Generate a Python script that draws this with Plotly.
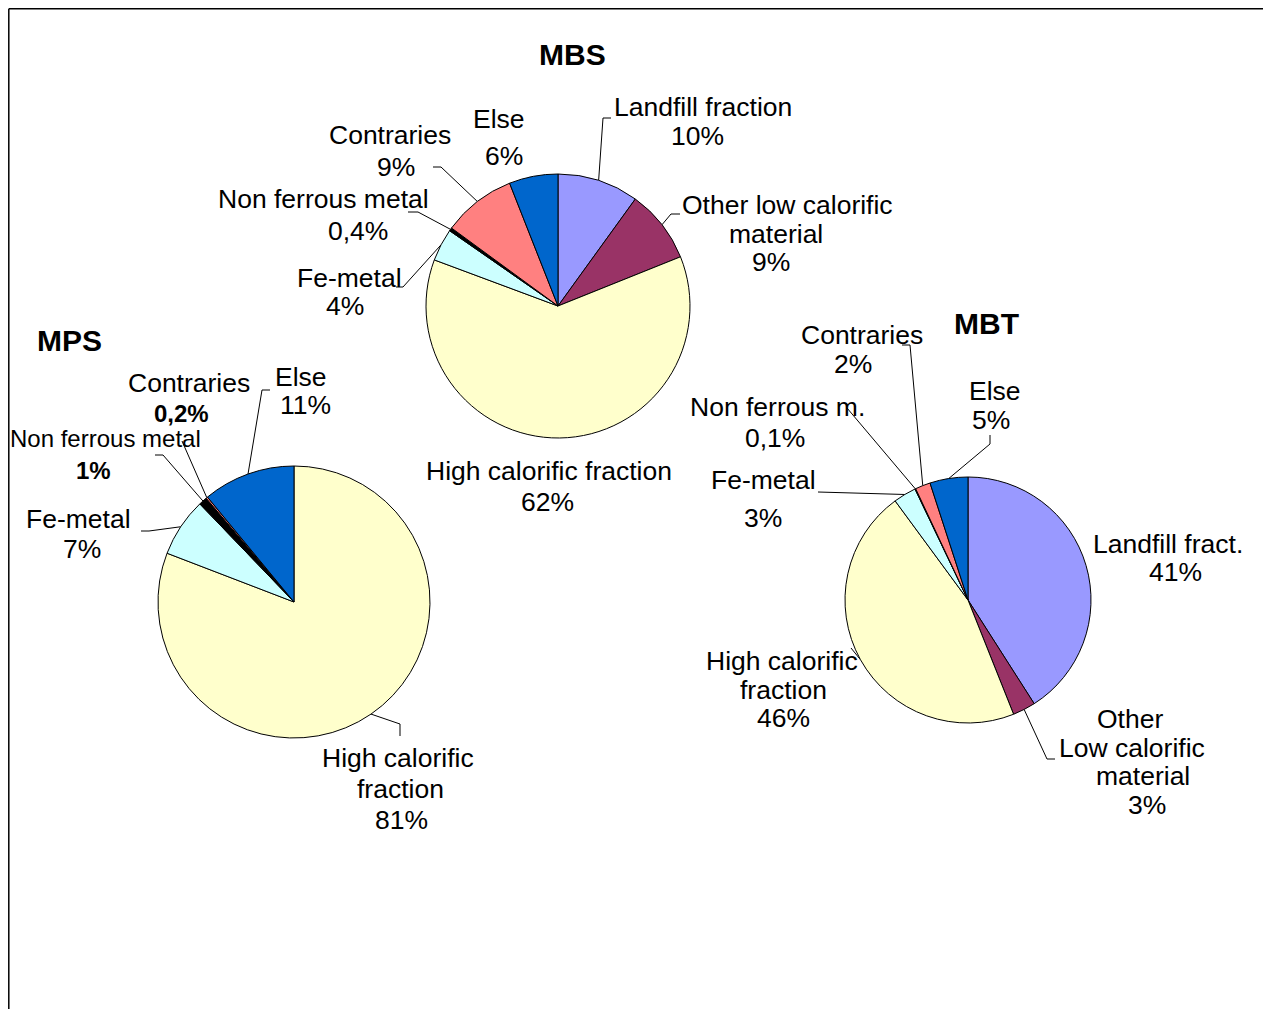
import math
import plotly.graph_objects as go

# page geometry: the browser body adds an 8px margin, so the figure is placed at (8, 8)
PAGE_W, PAGE_H = 1271, 1009
OFF = 8
W, H = PAGE_W - OFF, PAGE_H - OFF
FONT = "Liberation Sans, Arial, sans-serif"
LABEL_SIZE = 26.5
TITLE_SIZE = 30

# ---------------- data ----------------
categories = ["Landfill fraction", "Other low calorific material", "High calorific fraction",
              "Fe-metal", "Non ferrous metal", "Contraries", "Else"]
slice_colors = ["#9999FF", "#993366", "#FFFFCC", "#CCFFFF", "#000000", "#FF8080", "#0066CC"]

mbs_values = [10, 9, 62, 4, 0.4, 9, 6]
mps_values = [0, 0, 81, 7, 1, 0.2, 11]
mbt_values = [41, 3, 46, 3, 0.1, 2, 5]

pie_titles = ["MBS", "MPS", "MBT"]

# label wording per pie (text lines before the percentage)
mbs_names = [["Landfill fraction"], ["Other low calorific", "material"], ["High calorific fraction"],
             ["Fe-metal"], ["Non ferrous metal"], ["Contraries"], ["Else"]]
mps_names = [None, None, ["High calorific", "fraction"], ["Fe-metal"], ["Non ferrous metal"],
             ["Contraries"], ["Else"]]
mbt_names = [["Landfill fract."], ["Other", "Low calorific", "material"], ["High calorific", "fraction"],
             ["Fe-metal"], ["Non ferrous m."], ["Contraries"], ["Else"]]

# ---------------- layout (page-pixel positions) ----------------
geom = {"MBS": (558, 306, 132), "MPS": (294, 602, 136), "MBT": (968, 600, 123)}
title_pos = {"MBS": (572, 54), "MPS": (69, 340), "MBT": (986, 323)}

label_layout = {
    "MBS": [
        dict(pos=[(703, 107), (697, 136)], lead=[(603, 118), (611, 118)]),
        dict(pos=[(787, 205), (776, 234), (771, 262)], lead=[(671, 214), (680, 214)]),
        dict(pos=[(549, 471), (547, 502)], lead=None),
        dict(pos=[(349, 278), (345, 306)], lead=[(403, 287), (396, 287)]),
        dict(pos=[(323, 199), (358, 231)], lead=[(418, 212), (408, 212)]),
        dict(pos=[(390, 135), (396, 167)], lead=[(441, 167), (433, 167)]),
        dict(pos=[(499, 119), (504, 156)], lead=None),
    ],
    "MPS": [
        None, None,
        dict(pos=[(398, 758), (400, 789), (401, 820)], lead=[(400, 724), (400, 736)]),
        dict(pos=[(78, 519), (82, 549)], lead=[(149, 531), (141, 531)]),
        dict(pos=[(105, 438), (93, 470)], lead=[(163, 455), (155, 455)],
             sizes=[24, 24], bold=[False, True]),
        dict(pos=[(189, 383), (181, 413)], lead=[(182, 441)],
             sizes=[LABEL_SIZE, 24], bold=[False, True]),
        dict(pos=[(301, 377), (305, 405)], lead=[(262, 390), (270, 390)]),
    ],
    "MBT": [
        dict(pos=[(1168, 544), (1175, 572)], lead=None),
        dict(pos=[(1130, 719), (1132, 748), (1143, 776), (1147, 805)], lead=[(1047, 759), (1055, 759)]),
        dict(pos=[(782, 661), (783, 690), (783, 718)], lead=[(851, 648)]),
        dict(pos=[(763, 480), (763, 518)], lead=[(818, 492)]),
        dict(pos=[(777, 407), (775, 438)], lead=[(847, 408)]),
        dict(pos=[(862, 335), (853, 364)], lead=[(910, 345), (902, 345)]),
        dict(pos=[(995, 391), (991, 420)], lead=[(990, 444), (990, 435)]),
    ],
}

all_values = {"MBS": mbs_values, "MPS": mps_values, "MBT": mbt_values}
all_names = {"MBS": mbs_names, "MPS": mps_names, "MBT": mbt_names}


def pct_text(v):
    return f"{v:g}%".replace(".", ",")


fig = go.Figure()
annotations = []

for name in pie_titles:
    vals = all_values[name]
    cx, cy, r = geom[name]
    fx, fy = cx - OFF, cy - OFF  # figure-pixel centre
    idx = [i for i, v in enumerate(vals) if v > 0]
    fig.add_trace(go.Pie(
        labels=[categories[i] for i in idx],
        values=[vals[i] for i in idx],
        marker=dict(colors=[slice_colors[i] for i in idx], line=dict(color="black", width=1)),
        sort=False, direction="clockwise", rotation=0,
        textinfo="none", hoverinfo="label+percent", showlegend=False,
        domain=dict(x=[(fx - r) / W, (fx + r) / W], y=[1 - (fy + r) / H, 1 - (fy - r) / H]),
    ))

    total = sum(vals)
    cum = 0.0
    for i, v in enumerate(vals):
        if v <= 0:
            continue
        mid = (cum + v / 2) / total * 2 * math.pi
        cum += v
        lay = label_layout[name][i]
        lines = all_names[name][i] + [pct_text(v)]
        sizes = lay.get("sizes", [LABEL_SIZE] * len(lines))
        bolds = lay.get("bold", [False] * len(lines))
        for k, (txt, (x, y)) in enumerate(zip(lines, lay["pos"])):
            s = sizes[k] if k < len(sizes) else sizes[-1]
            b = bolds[k] if k < len(bolds) else False
            annotations.append(dict(
                x=x, y=y, xref="x", yref="y", text=f"<b>{txt}</b>" if b else txt,
                showarrow=False, xanchor="center", yanchor="middle",
                font=dict(family=FONT, size=s, color="black")))
        if lay["lead"]:
            tip = (cx + r * math.sin(mid), cy - r * math.cos(mid))
            pts = [tip] + lay["lead"]
            fig.add_trace(go.Scatter(
                x=[p[0] for p in pts], y=[p[1] for p in pts], mode="lines",
                line=dict(color="black", width=1), hoverinfo="skip", showlegend=False))

    tx, ty = title_pos[name]
    annotations.append(dict(
        x=tx, y=ty, xref="x", yref="y", text=f"<b>{name}</b>", showarrow=False,
        xanchor="center", yanchor="middle", font=dict(family=FONT, size=TITLE_SIZE, color="black")))

fig.update_layout(
    width=W, height=H, margin=dict(l=0, r=0, t=0, b=0),
    paper_bgcolor="white", plot_bgcolor="rgba(0,0,0,0)",
    xaxis=dict(range=[OFF, PAGE_W], visible=False, fixedrange=True, domain=[0, 1]),
    yaxis=dict(range=[PAGE_H, OFF], visible=False, fixedrange=True, domain=[0, 1]),
    annotations=annotations,
    shapes=[
        dict(type="line", xref="x", yref="y", x0=8.8, y0=8.8, x1=PAGE_W, y1=8.8,
             line=dict(color="black", width=1.5)),
        dict(type="line", xref="x", yref="y", x0=8.8, y0=8.8, x1=8.8, y1=PAGE_H,
             line=dict(color="black", width=1.5)),
    ],
)

fig.write_html("out.html", config={"displayModeBar": False})
